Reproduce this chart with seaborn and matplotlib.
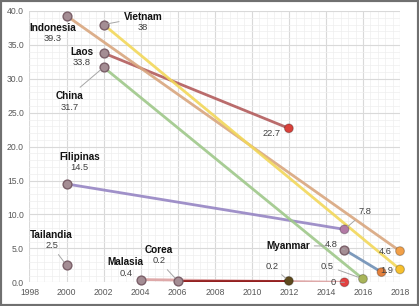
import pandas as pd
import matplotlib.pyplot as plt
import seaborn as sns
from matplotlib.ticker import MultipleLocator, AutoMinorLocator, FormatStrFormatter
from matplotlib.patches import Rectangle

countries = ["Indonesia", "Vietnam", "Laos", "China", "Filipinas", "Tailandia", "Malasia", "Corea", "Myanmar"]
start_year = [2000, 2002, 2002, 2002, 2000, 2000, 2004, 2006, 2015]
start_val = [39.3, 38, 33.8, 31.7, 14.5, 2.5, 0.4, 0.2, 4.8]
end_year = [2018, 2018, 2012, 2016, 2015, None, 2015, 2012, 2017]
end_val = [4.6, 1.9, 22.7, 0.5, 7.8, None, 0, 0.2, 1.5]
end_label = ["4.6", "1.9", "22.7", "0.5", "7.8", None, "0", "0.2", None]

line_colors = {"Indonesia": "#d9a67e", "Vietnam": "#f2d85a", "Laos": "#b35c5c", "China": "#9fc88a",
               "Filipinas": "#9685c4", "Tailandia": "#a48d94", "Malasia": "#dba0a0",
               "Corea": "#8b1010", "Myanmar": "#6f8fb5"}
end_colors = {"Indonesia": "#f2a048", "Vietnam": "#f7c02e", "Laos": "#d9413a", "China": "#a9b55a",
              "Filipinas": "#b27aa5", "Malasia": "#e34040", "Corea": "#5e4a1e", "Myanmar": "#e3803c"}

rows = []
for c, sy, sv, ey, ev in zip(countries, start_year, start_val, end_year, end_val):
    rows.append({"country": c, "year": sy, "value": sv, "point": "start"})
    if ey is not None:
        rows.append({"country": c, "year": ey, "value": ev, "point": "end"})
df = pd.DataFrame(rows)

sns.set_style("white")
plt.rcParams["font.family"] = ["Liberation Sans", "DejaVu Sans"]

fig = plt.figure(figsize=(4.19, 3.06), dpi=100)
ax = fig.add_axes([0.0704, 0.0775, 0.8843, 0.8866])

# lines (Malasia drawn under Corea)
order = ["Malasia", "Corea", "Myanmar", "Filipinas", "China", "Laos", "Indonesia", "Vietnam"]
for c in order:
    sub = df[df.country == c]
    sns.lineplot(data=sub, x="year", y="value", color=line_colors[c], lw=2.0, alpha=0.9,
                 ax=ax, legend=False, zorder=3)

starts = df[df.point == "start"]
ends = df[df.point == "end"]
sns.scatterplot(data=starts, x="year", y="value", color="#a48d94", edgecolor="#7a5f68",
                linewidth=1.0, s=40, ax=ax, legend=False, zorder=5, clip_on=False)
sns.scatterplot(data=ends, x="year", y="value", hue="country", palette=end_colors,
                edgecolor="#00000040", linewidth=0.8, s=40, ax=ax, legend=False, zorder=5,
                clip_on=False)

# label layout (offsets from the point, in data units)
name_off = {"Indonesia": (-0.73, -1.8), "Vietnam": (2.13, 1.1), "Laos": (-1.18, 0.2),
            "China": (-1.85, -4.3), "Filipinas": (0.69, 4.0), "Tailandia": (-0.8, 4.5),
            "Malasia": (-0.81, 2.55), "Corea": (-1.0, 4.55), "Myanmar": (-3.06, 0.6)}
value_off = {"Myanmar": (-0.7, 0.75)}
end_off = {"Indonesia": (-0.81, 0.0), "Vietnam": (-0.72, -0.1), "Laos": (-0.93, -0.7),
           "China": (-1.93, 1.9), "Filipinas": (1.1, 2.6), "Malasia": (-0.6, 0.0), "Corea": (-0.93, 2.2)}
name_leader = {"Vietnam", "China"}
value_leader = {"Tailandia", "Corea", "Myanmar"}
end_leader = {"China", "Filipinas", "Malasia", "Corea"}
lead = dict(arrowstyle="-", color="#a6a6a6", lw=0.7, shrinkA=1, shrinkB=3)

for c, sy, sv, ey, ev, el in zip(countries, start_year, start_val, end_year, end_val, end_label):
    dx, dy = name_off[c]
    vdx, vdy = value_off.get(c, (dx, dy - 1.6))
    if c in name_leader:
        ax.annotate(c, xy=(sy, sv), xytext=(sy + dx, sv + dy), ha="center", va="center",
                    fontsize=7.2, fontweight="bold", color="#111111", arrowprops=lead, zorder=6)
    elif c == "Myanmar":
        ax.annotate(c, xy=(sy + vdx - 0.35, sv + vdy - 0.2), xytext=(sy + dx, sv + dy), ha="center",
                    va="center", fontsize=7.2, fontweight="bold", color="#111111",
                    arrowprops=dict(lead, shrinkB=0), zorder=6)
    else:
        ax.text(sy + dx, sv + dy, c, ha="center", va="center", fontsize=7.2,
                fontweight="bold", color="#111111", zorder=6)
    vtxt = f"{sv:g}"
    if c in value_leader:
        ax.annotate(vtxt, xy=(sy, sv), xytext=(sy + vdx, sv + vdy), ha="center", va="center",
                    fontsize=6.7, color="#404040", arrowprops=lead, zorder=6)
    else:
        ax.text(sy + vdx, sv + vdy, vtxt, ha="center", va="center", fontsize=6.7,
                color="#404040", zorder=6)
    if el is not None:
        ex, ey2 = end_off[c]
        if c in end_leader:
            ax.annotate(el, xy=(ey, ev), xytext=(ey + ex, ev + ey2), ha="center", va="center",
                        fontsize=6.7, color="#404040", arrowprops=lead, zorder=6)
        else:
            ax.text(ey + ex, ev + ey2, el, ha="center", va="center", fontsize=6.7,
                    color="#404040", zorder=6)

ax.set_xlim(1998, 2018)
ax.set_ylim(0, 40)
ax.xaxis.set_major_locator(MultipleLocator(2))
ax.yaxis.set_major_locator(MultipleLocator(5))
ax.xaxis.set_minor_locator(AutoMinorLocator(5))
ax.yaxis.set_minor_locator(AutoMinorLocator(5))
ax.yaxis.set_major_formatter(FormatStrFormatter("%.1f"))
ax.grid(which="major", color="#d9d9d9", lw=0.8)
ax.grid(which="minor", color="#eeeeee", lw=0.5)
ax.set_axisbelow(True)
ax.tick_params(which="both", length=0, labelsize=6.2, labelcolor="#595959", pad=4)
ax.set_xlabel("")
ax.set_ylabel("")
for s in ax.spines.values():
    s.set_visible(False)

fig.patches.append(Rectangle((0, 0), 1, 1, transform=fig.transFigure, fill=False,
                             edgecolor="#707070", lw=3, zorder=10))

fig.savefig("out.png", dpi=100)
